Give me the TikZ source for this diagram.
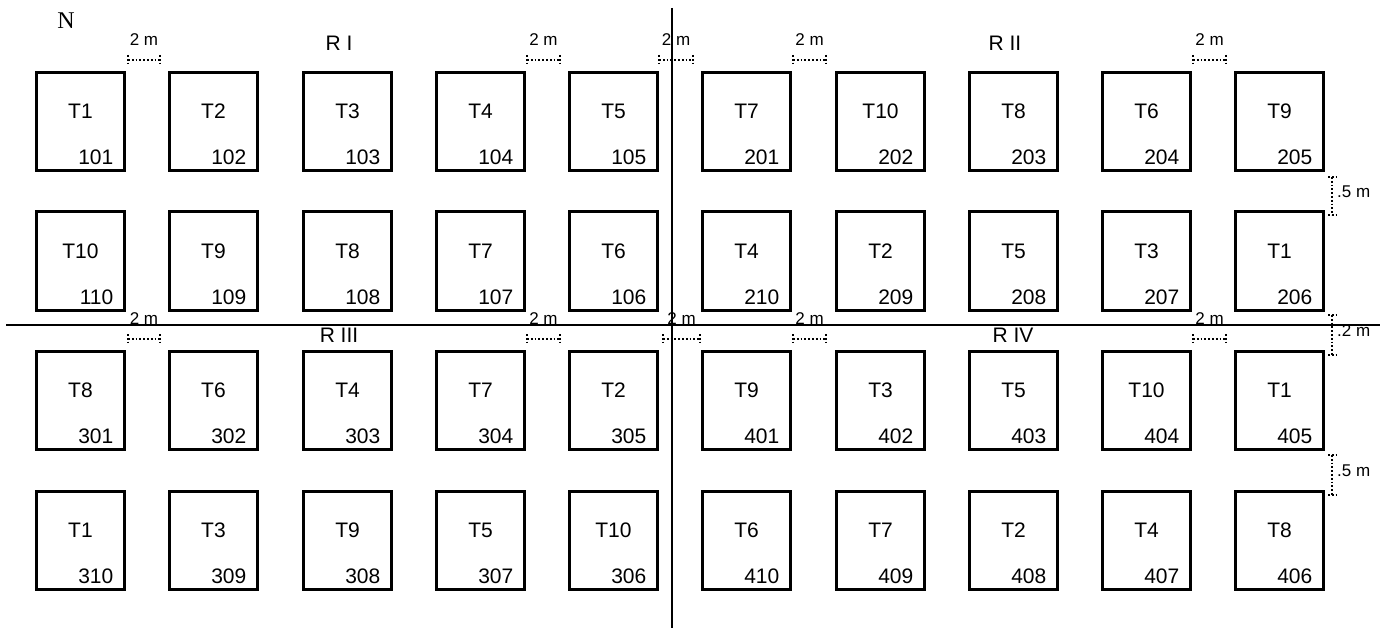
\documentclass[tikz,border=0pt]{standalone}
\usepackage{fontspec}
\setmainfont{Liberation Sans}
\newfontfamily\serifN{Liberation Serif}
\usetikzlibrary{calc}
\newcommand\plotrow[2]{%
  \foreach \x/\t/\n in {#2}{%
    \node[plotbox] (b\n) at (\x,#1) {};
    \node[tlab] (t\n) at ($(b\n.center)+(0,-10)$) {\t};
    \node[nlab] (n\n) at ($(b\n.south east)+(-11,-13)$) {\n};
  }}
\newcommand\hdimen[4]{% x1, x2, y, name
  \coordinate (#4a) at (#1,#3);
  \coordinate (#4b) at (#2,#3);
  \draw[dimln] (#4a) -- (#4b);
  \draw[dimln] ($(#4a)+(0,-5)$) -- ($(#4a)+(0,5)$);
  \draw[dimln] ($(#4b)+(0,-5)$) -- ($(#4b)+(0,5)$);
  \node[dimlab] (#4l) at ($(#4a)!0.5!(#4b)+(0,-20)$) {2 m};}
\newcommand\vdimen[5]{% x, y1, y2, name, label
  \coordinate (#4a) at (#1,#2);
  \coordinate (#4b) at (#1,#3);
  \draw[dimln] (#4a) -- (#4b);
  \draw[dimln] ($(#4a)+(-4,0)$) -- ($(#4a)+(4,0)$);
  \draw[dimln] ($(#4b)+(-4,0)$) -- ($(#4b)+(4,0)$);
  \node[dimlab, anchor=west] (#4l) at ($(#4a)!0.4!(#4b)+(5,0)$) {#5};}
\begin{document}
\begin{tikzpicture}[x=1pt,y=-1pt,
  plotbox/.style={draw, line width=3pt, minimum width=88pt, minimum height=98pt, inner sep=0pt, outer sep=0pt},
  tlab/.style={font=\fontsize{21}{24}\selectfont, inner sep=0pt},
  nlab/.style={font=\fontsize{21}{24}\selectfont, inner sep=0pt, anchor=east},
  replab/.style={font=\fontsize{21}{25}\selectfont, inner sep=0pt},
  dimlab/.style={font=\fontsize{17}{20}\selectfont, inner sep=0pt},
  dimln/.style={dotted, line width=1.8pt},
  divline/.style={line width=1.3pt}]
\useasboundingbox[fill=white] (0,0) rectangle (1383,628);
\coordinate (vtop) at (672,8);
\coordinate (vbot) at (672,628);
\coordinate (hleft) at (6,325);
\coordinate (hright) at (1380,325);
\draw[divline] (vtop) -- (vbot);
\draw[divline] (hleft) -- (hright);
\node[font=\serifN\fontsize{24}{28}\selectfont, inner sep=0pt] (north) at (66,21) {N};
\node[replab] (r1) at (339,43) {R I};
\node[replab] (r2) at (1005,43) {R II};
\node[replab] (r3) at (339,335) {R III};
\node[replab] (r4) at (1013,335) {R IV};
\plotrow{121.5}{80.5/T1/101,213.5/T2/102,347.5/T3/103,480.5/T4/104,613.5/T5/105,746.5/T7/201,880.5/T10/202,1013.5/T8/203,1146.5/T6/204,1279.5/T9/205}
\plotrow{261}{80.5/T10/110,213.5/T9/109,347.5/T8/108,480.5/T7/107,613.5/T6/106,746.5/T4/210,880.5/T2/209,1013.5/T5/208,1146.5/T3/207,1279.5/T1/206}
\plotrow{400.5}{80.5/T8/301,213.5/T6/302,347.5/T4/303,480.5/T7/304,613.5/T2/305,746.5/T9/401,880.5/T3/402,1013.5/T5/403,1146.5/T10/404,1279.5/T1/405}
\plotrow{540}{80.5/T1/310,213.5/T3/309,347.5/T9/308,480.5/T5/307,613.5/T10/306,746.5/T6/410,880.5/T7/409,1013.5/T2/408,1146.5/T4/407,1279.5/T8/406}
\hdimen{128}{160}{60}{da}
\hdimen{527}{560}{60}{db}
\hdimen{659}{693}{60}{dc}
\hdimen{793}{826}{60}{dd}
\hdimen{1193}{1226}{60}{de}
\hdimen{128}{160}{339}{df}
\hdimen{527}{560}{339}{dg}
\hdimen{663}{700}{339}{dh}
\hdimen{793}{826}{339}{di}
\hdimen{1193}{1226}{339}{dj}
\vdimen{1332}{177}{215}{va}{.5 m}
\vdimen{1332}{315}{355}{vb}{.2 m}
\vdimen{1332}{455}{495}{vc}{.5 m}
\end{tikzpicture}
\end{document}
